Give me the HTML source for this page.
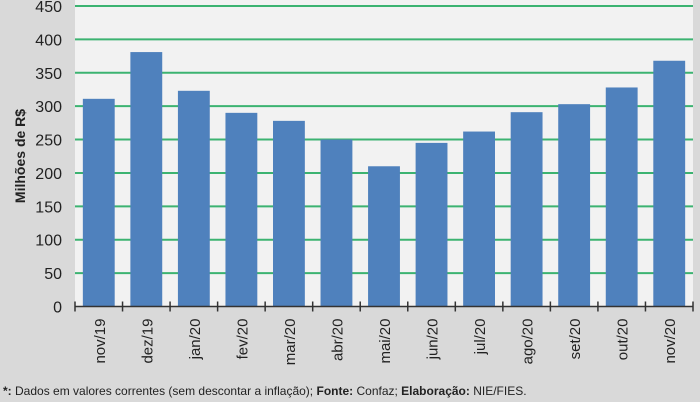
<!DOCTYPE html>
<html><head><meta charset="utf-8"><style>
body{margin:0;background:#d9d9d9;}
svg{display:block;font-family:"Liberation Sans",sans-serif;}
</style></head><body>
<svg width="700" height="402" viewBox="0 0 700 402" xmlns="http://www.w3.org/2000/svg">
<rect x="0" y="0" width="700" height="402" fill="#d9d9d9"/>
<rect x="75" y="0" width="618" height="307" fill="#f2f2f2"/>
<g id="grid"></g><g id="bars"></g><g id="axis"></g>
<text transform="translate(25,156) rotate(-90)" text-anchor="middle" font-size="14" font-weight="bold" fill="#222">Milhões de R$</text>
<text x="3" y="395" font-size="12" fill="#222"><tspan font-weight="bold">*:</tspan> Dados em valores correntes (sem descontar a inflação); <tspan font-weight="bold">Fonte:</tspan> Confaz; <tspan font-weight="bold">Elaboração:</tspan> NIE/FIES.</text>
</svg>
<script>
const categories=["nov/19","dez/19","jan/20","fev/20","mar/20","abr/20","mai/20","jun/20","jul/20","ago/20","set/20","out/20","nov/20"];
const values=[311,381,323,290,278,250,210,245,262,291,303,328,368];
const yTicks=[0,50,100,150,200,250,300,350,400,450];
const NS="http://www.w3.org/2000/svg";
const x0=75,x1=693,y0=306.5,yTop=6,yMax=450;
const band=(x1-x0)/categories.length;
const y=v=>y0-(v/yMax)*(y0-yTop);
const xb=i=>x0+i*band;
function mk(t,a,p){const e=document.createElementNS(NS,t);for(const k in a)e.setAttribute(k,a[k]);p.appendChild(e);return e;}
const g=document.getElementById('grid'),b=document.getElementById('bars'),ax=document.getElementById('axis');
yTicks.forEach(t=>{
 if(t>0){const l=mk('line',{x1:x0,x2:x1,y1:y(t),y2:y(t),stroke:'#3cb371','stroke-width':2},g);
 
 }
 const tx=mk('text',{x:x0-13,y:y(t)+6,'text-anchor':'end','font-size':16,fill:'#222'},ax);
 tx.textContent=t;
 
 
});
const bw=band*0.67;
values.forEach((v,i)=>{
 const r=mk('rect',{x:xb(i)+(band-bw)/2,y:y(v),width:bw,height:y0-y(v),fill:'#4f81bd'},b);
 
 
 const cx=xb(i)+band/2;
 const tx=mk('text',{transform:`translate(${cx+6},${y0+12}) rotate(-90)`,'text-anchor':'end','font-size':15,fill:'#222'},ax);
 tx.textContent=categories[i];
 
 
});
const axl=mk('line',{x1:x0,x2:x1,y1:y0,y2:y0,stroke:'#333','stroke-width':1.5},ax);


for(let i=0;i<=categories.length;i++){
 const t=mk('line',{x1:xb(i),x2:xb(i),y1:y0-5,y2:y0+5,stroke:'#333','stroke-width':1.5},ax);
 
 
}
</script>
</body></html>
